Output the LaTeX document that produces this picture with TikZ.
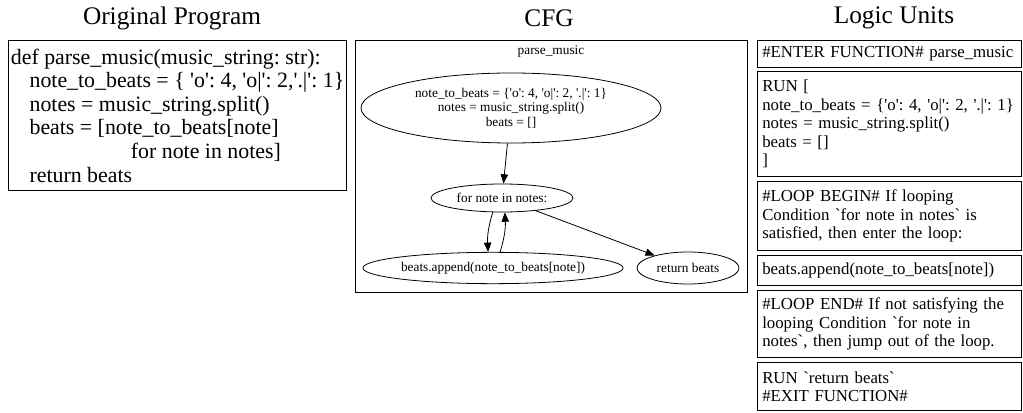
\documentclass[tikz,border=0pt]{standalone}
\usepackage{fontspec}
\setmainfont{Liberation Serif}[Ligatures=TeXOff]
\frenchspacing
\usetikzlibrary{shapes.geometric,arrows.meta}

\begin{document}
\begin{tikzpicture}[x=0.75pt, y=-0.75pt,
    titulo/.style={font=\fontsize{19}{22}\selectfont},
    caja/.style={draw, line width=0.9pt, anchor=north west, align=left, inner ysep=0pt},
    unidad/.style={caja, text width=191pt, inner xsep=3.5pt, font=\fontsize{12.6}{13.9}\selectfont},
    bloque/.style={draw, ellipse, line width=0.6pt, inner sep=0pt, align=center, font=\fontsize{10}{10.9}\selectfont},
    flecha/.style={-{Triangle[length=7pt, width=5.5pt]}, line width=0.6pt}]
    \useasboundingbox (0,0) rectangle (1023,413);

    % Programa original
    \node[titulo] (tprog) at (172,18) {Original Program};
    \node[caja, minimum width=253.5pt, minimum height=112.5pt, inner xsep=1.5pt, font=\fontsize{16.4}{17.7}\selectfont] (prog) at (8,40) {def parse\_music(music\_string: str):\\
      \hspace*{14pt}note\_to\_beats = \{ 'o': 4, 'o|': 2,'.|': 1\}\\
      \hspace*{14pt}notes = music\_string.split()\\
      \hspace*{14pt}beats = [note\_to\_beats[note]\\
      \hspace*{90pt}for note in notes]\\
      \hspace*{14pt}return beats};

    % CFG
    \node[titulo] (tcfg) at (549,18) {CFG};
    \node[draw, line width=0.8pt, anchor=north west, minimum width=294pt, minimum height=189pt, inner sep=0pt] (cfg) at (355,40) {};
    \node[font=\fontsize{10}{11}\selectfont] (fname) at (551,52) {parse\_music};
    \node[bloque, minimum width=225pt, minimum height=52.5pt] (init) at (511,108) {note\_to\_beats = \{'o': 4, 'o|': 2, '.|': 1\}\\notes = music\_string.split()\\beats = []};
    \node[bloque, minimum width=106.5pt, minimum height=21pt] (loop) at (502,198) {for note in notes:};
    \node[bloque, minimum width=192pt, minimum height=23.5pt] (body) at (493,268) {beats.append(note\_to\_beats[note])};
    \node[bloque, minimum width=76.5pt, minimum height=24pt] (ret) at (688,268) {return beats};
    \draw[flecha] (init) -- (loop);
    \draw[flecha] (loop.237) to[bend right=10] (body.107);
    \draw[flecha] (body.66) to[bend right=10] (loop.281);
    \draw[flecha] (loop) -- (ret);

    % Unidades logicas
    \node[titulo] (tunits) at (894,18) {Logic Units};
    \node[unidad, minimum height=20.25pt] (u1) at (757,40) {\#ENTER FUNCTION\# parse\_music};
    \node[unidad, minimum height=78.75pt] (u2) at (757,71) {RUN [\\note\_to\_beats = \{'o': 4, 'o|': 2, '.|': 1\}\\notes = music\_string.split()\\beats = []\\]};
    \node[unidad, minimum height=51.75pt] (u3) at (757,181) {\#LOOP BEGIN\# If looping\\Condition `for note in notes` is\\satisfied, then enter the loop:};
    \node[unidad, minimum height=22.5pt] (u4) at (757,255) {beats.append(note\_to\_beats[note])};
    \node[unidad, minimum height=50.25pt] (u5) at (757,290) {\#LOOP END\# If not satisfying the\\looping Condition `for note in\\notes`, then jump out of the loop.};
    \node[unidad, minimum height=36pt] (u6) at (757,362) {RUN `return beats`\\\#EXIT FUNCTION\#};
\end{tikzpicture}
\end{document}
